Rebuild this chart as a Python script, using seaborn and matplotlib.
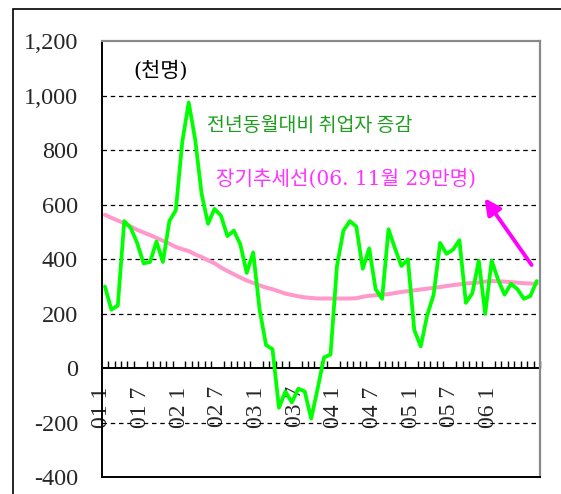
import numpy as np
import pandas as pd
import matplotlib
matplotlib.use("Agg")
import matplotlib.pyplot as plt
from matplotlib.patches import Rectangle
import seaborn as sns

# Monthly series, 2001.1 - 2006.8 (thousand persons)
years = ["01", "02", "03", "04", "05", "06"]
periods = [f"{y}.{m}" for y in years for m in range(1, 13)][:68]

employment_change = [
    300, 215, 230, 540, 515, 460, 385, 390, 465, 390, 540, 580,
    830, 975, 840, 640, 530, 585, 560, 485, 505, 455, 350, 425,
    215, 85, 70, -145, -85, -125, -75, -85, -185, -75, 40, 50,
    375, 505, 540, 520, 365, 440, 290, 255, 510, 440, 375, 400,
    140, 80, 195, 270, 460, 420, 435, 470, 240, 275, 395, 200,
    395, 325, 270, 310, 290, 255, 265, 320,
]

long_term_trend = [
    563, 552, 542, 532, 520, 508, 498, 489, 478, 468, 457, 445,
    437, 430, 418, 408, 396, 385, 370, 357, 345, 333, 322, 313,
    304, 296, 290, 282, 274, 269, 264, 260, 258, 256, 256, 256,
    256, 256, 256, 257, 262, 266, 268, 270, 272, 276, 280, 283,
    286, 289, 292, 295, 298, 302, 305, 308, 311, 313, 315, 318,
    320, 319, 318, 316, 314, 312, 311, 310,
]

tick_labels = ["01 1", "01 7", "02 1", "02 7", "03 1", "03 7",
               "04 1", "04 7", "05 1", "05 7", "06 1"]
label_months = list(range(0, 61, 6))
y_ticks = [-400, -200, 0, 200, 400, 600, 800, 1000, 1200]
y_tick_labels = ["-400", "-200", "0", "200", "400", "600", "800", "1,000", "1,200"]

df = pd.DataFrame({
    "idx": np.arange(len(periods)),
    "period": periods,
    "change": employment_change,
    "trend": long_term_trend,
})

sns.set_style("white")
plt.rcParams["font.family"] = ["Liberation Serif", "Noto Sans CJK KR"]

fig = plt.figure(figsize=(5.61, 4.94), dpi=100)
ax = fig.add_axes([101.7 / 561, (494 - 477.3) / 494, (540 - 101.7) / 561, (477.3 - 41.2) / 494])

ymin, ymax = y_ticks[0], y_ticks[-1]
ax.set_ylim(ymin, ymax)
ax.set_xlim(-0.5, len(periods) - 0.5)

# interior dashed gridlines
for v in y_ticks[1:-1]:
    if v != 0:
        ax.axhline(v, color="black", lw=0.9, dashes=(3.6, 3.0), zorder=1)

sns.lineplot(data=df, x="idx", y="trend", ax=ax, color="#FF99CC", lw=2.9, zorder=3)
sns.lineplot(data=df, x="idx", y="change", ax=ax, color="#00FF00", lw=2.7, zorder=4)

ax.set_xlabel("")
ax.set_ylabel("")
ax.set_xticks([])
ax.set_yticks(y_ticks, y_tick_labels)
ax.tick_params(axis="y", length=0, pad=17, labelsize=17.5)

for side in ("left", "bottom"):
    ax.spines[side].set_color("black")
    ax.spines[side].set_linewidth(1.4)
for side in ("top", "right"):
    ax.spines[side].set_color("#8a8a8a")
    ax.spines[side].set_linewidth(1.6)

# category axis running along the zero line
zero_frac = (0 - ymin) / (ymax - ymin)
sec = ax.secondary_xaxis(zero_frac)
sec.set_xticks([m - 0.5 for m in label_months], labels=tick_labels)
sec.set_xticks(np.arange(-0.5, len(periods), 1.0), minor=True)
sec.tick_params(which="major", length=0, pad=13, labelrotation=90, labelsize=17)
sec.tick_params(which="minor", direction="in", length=5, width=1.0, color="black")
sec.spines["bottom"].set_color("black")
sec.spines["bottom"].set_linewidth(1.4)

ax.text(8.7, 1091, "(천명)", ha="center", va="center", fontsize=15,
        family=["DejaVu Serif", "Noto Sans CJK KR"], color="black")
ax.text(15.85, 889, "전년동월대비 취업자 증감", ha="left", va="center", fontsize=14,
        family=["Noto Sans CJK KR"], color="#1E9E1E")
ax.text(17.25, 691, "장기추세선(06. 11월 29만명)", ha="left", va="center", fontsize=14.5,
        family=["DejaVu Serif", "Noto Sans CJK KR"], color="#FF33FF")

ax.annotate("", xy=(58.9, 624), xytext=(66.2, 379),
            arrowprops=dict(arrowstyle="-|>", color="#FF00FF", lw=2.8,
                            mutation_scale=24, shrinkA=0, shrinkB=0))

# outer frame
fig.add_artist(Rectangle((13 / 561, -0.1), 1.2, (494 - 9) / 494 + 0.1,
                         transform=fig.transFigure, fill=False,
                         ec="black", lw=1.2))

fig.savefig("out.png", dpi=100)
